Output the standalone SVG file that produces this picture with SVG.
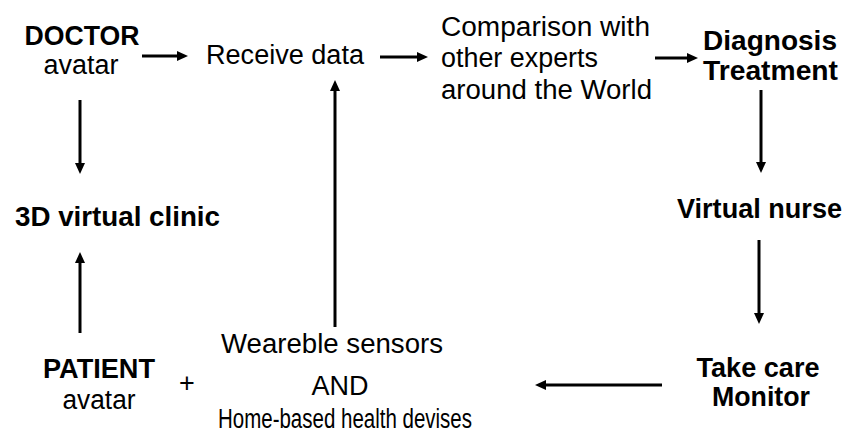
<svg xmlns="http://www.w3.org/2000/svg" width="846" height="434" viewBox="0 0 846 434">
<style>
text{font-family:"Liberation Sans",Arial,sans-serif;font-size:27px;fill:#000}
.b{font-weight:bold}
.m{text-anchor:middle}
.c line{stroke:#000;stroke-width:3}
</style>
<defs>
<marker id="ah" markerWidth="12" markerHeight="11" refX="3" refY="5.5" orient="auto" markerUnits="userSpaceOnUse">
<path d="M0,0.5 L11,5.5 L0,10.5 z" fill="#000"/>
</marker>
</defs>
<rect width="846" height="434" fill="#fff"/>
<g id="doctor"><text class="b m" x="82" y="45" textLength="115" lengthAdjust="spacingAndGlyphs">DOCTOR</text><text class="m" x="81" y="74" textLength="75" lengthAdjust="spacingAndGlyphs">avatar</text></g>
<g id="receive"><text x="206" y="64" textLength="158" lengthAdjust="spacingAndGlyphs">Receive data</text></g>
<g id="comparison"><text x="441" y="36" textLength="209" lengthAdjust="spacingAndGlyphs">Comparison with</text><text x="441" y="67" textLength="157" lengthAdjust="spacingAndGlyphs">other experts</text><text x="441" y="99" textLength="211" lengthAdjust="spacingAndGlyphs">around the World</text></g>
<g id="diagnosis"><text class="b" x="703" y="50" textLength="134" lengthAdjust="spacingAndGlyphs">Diagnosis</text><text class="b" x="703" y="80" textLength="135" lengthAdjust="spacingAndGlyphs">Treatment</text></g>
<g id="clinic"><text class="b" x="15" y="226" textLength="205" lengthAdjust="spacingAndGlyphs">3D virtual clinic</text></g>
<g id="nurse"><text class="b" x="677" y="218" textLength="165" lengthAdjust="spacingAndGlyphs">Virtual nurse</text></g>
<g id="takecare"><text class="b m" x="758" y="377" textLength="123" lengthAdjust="spacingAndGlyphs">Take care</text><text class="b m" x="761" y="406" textLength="98" lengthAdjust="spacingAndGlyphs">Monitor</text></g>
<g id="patient"><text class="b m" x="99" y="378" textLength="112" lengthAdjust="spacingAndGlyphs">PATIENT</text><text class="m" x="99" y="409" textLength="73" lengthAdjust="spacingAndGlyphs">avatar</text><text class="m" x="187" y="392">+</text></g>
<g id="sensors"><text class="m" x="332" y="353" textLength="222" lengthAdjust="spacingAndGlyphs">Weareble sensors</text><text class="m" x="340" y="395" textLength="57" lengthAdjust="spacingAndGlyphs">AND</text><text class="m" x="345" y="428" textLength="254" lengthAdjust="spacingAndGlyphs">Home-based health devises</text></g>
<g class="c" id="connectors">
<line x1="142" y1="56" x2="180" y2="56" marker-end="url(#ah)"/>
<line x1="380" y1="57" x2="420" y2="57" marker-end="url(#ah)"/>
<line x1="655" y1="58" x2="690" y2="58" marker-end="url(#ah)"/>
<line x1="761" y1="90" x2="761" y2="165" marker-end="url(#ah)"/>
<line x1="759" y1="240" x2="759" y2="316" marker-end="url(#ah)"/>
<line x1="662" y1="385" x2="543" y2="385" marker-end="url(#ah)"/>
<line x1="335" y1="327" x2="335" y2="88" marker-end="url(#ah)"/>
<line x1="80" y1="100" x2="80" y2="166" marker-end="url(#ah)"/>
<line x1="80" y1="333" x2="80" y2="260" marker-end="url(#ah)"/>
</g>
</svg>
